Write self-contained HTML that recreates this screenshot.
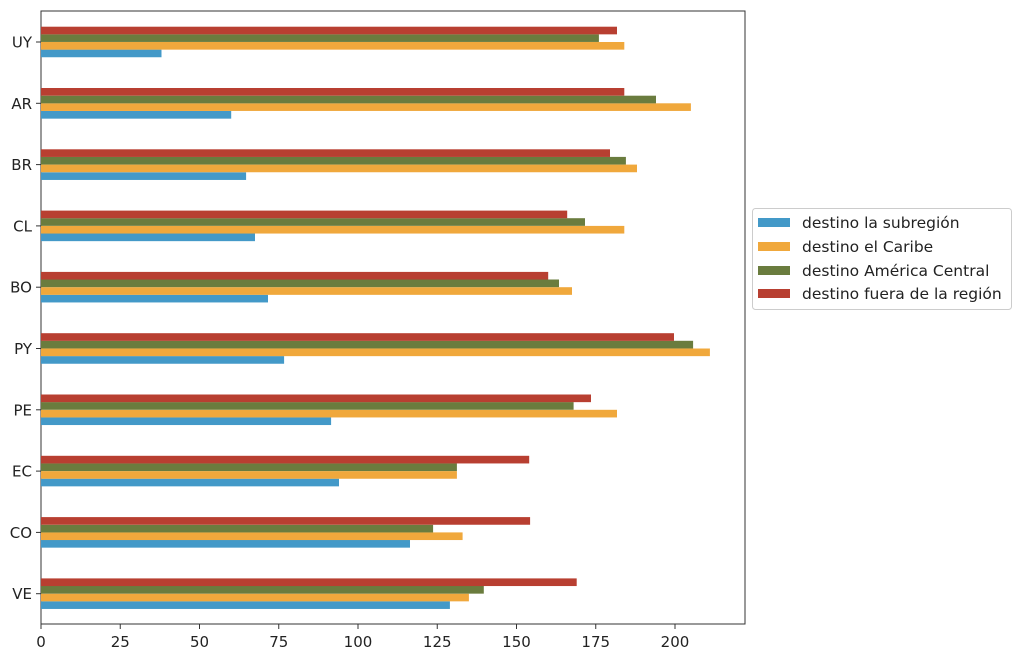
<!DOCTYPE html>
<html><head><meta charset="utf-8"><style>
body{margin:0;background:#fff;width:1024px;height:666px;overflow:hidden}
svg text{font-family:"DejaVu Sans","Liberation Sans",sans-serif;fill:#222}
</style></head><body>
<svg id="s" width="1024" height="666" xmlns="http://www.w3.org/2000/svg">
<rect x="41" y="11" width="704" height="613" fill="none" stroke="#333" stroke-width="1"/>
<g id="bars"></g>
<g id="ax"></g>
<rect x="752.5" y="208.5" width="259" height="101" rx="3" fill="#fff" stroke="#ccc"/>
<rect x="758" y="218" width="32" height="9" fill="#4399c8"/>
<rect x="758" y="242" width="32" height="9" fill="#f0a83c"/>
<rect x="758" y="266" width="32" height="9" fill="#6a7c3e"/>
<rect x="758" y="289" width="32" height="9" fill="#b83f31"/>
<text x="802" y="228" font-size="15.5">destino la subregión</text>
<text x="802" y="252" font-size="15.5">destino el Caribe</text>
<text x="802" y="276" font-size="15.5">destino América Central</text>
<text x="802" y="299" font-size="15.5">destino fuera de la región</text>
</svg>
<script>
var d=[["UY",38,184,176,181.7],["AR",60,205,194,184],["BR",64.7,188,184.5,179.5],["CL",67.5,184,171.6,166],["BO",71.6,167.5,163.4,160],["PY",76.7,211,205.7,199.7],["PE",91.5,181.7,168,173.5],["EC",94,131.2,131.2,154],["CO",116.4,133,123.7,154.3],["VE",129,135,139.7,169]];
var cols=["#4399c8","#f0a83c","#6a7c3e","#b83f31"];
var b="",a="",x0=41,k=3.17;
d.forEach(function(r,i){var c=42+i*61.3;
 for(var j=0;j<4;j++){var y=c+7.65-j*7.65;b+='<rect x="'+x0+'" y="'+y.toFixed(1)+'" width="'+(r[j+1]*k).toFixed(1)+'" height="7.65" fill="'+cols[j]+'"/>';}
 a+='<line x1="36" x2="41" y1="'+c+'" y2="'+c+'" stroke="#333"/><text x="32" y="'+(c+5.5)+'" font-size="15" text-anchor="end">'+r[0]+'</text>';
});
for(var t=0;t<=200;t+=25){var x=x0+t*k;a+='<line x1="'+x+'" x2="'+x+'" y1="624" y2="629" stroke="#333"/><text x="'+x+'" y="647" font-size="15" text-anchor="middle">'+t+'</text>';}
document.getElementById("bars").innerHTML=b;document.getElementById("ax").innerHTML=a;
</script>
</body></html>
